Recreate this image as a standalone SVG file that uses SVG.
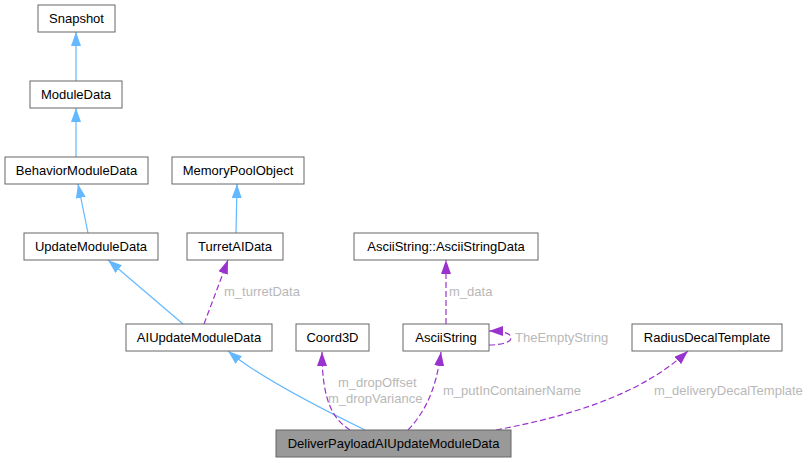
<svg xmlns="http://www.w3.org/2000/svg" width="810" height="463" viewBox="0 0 810 463">
<style>
.n rect{fill:#fff;stroke:#666;stroke-width:1}
.n text{font-family:"Liberation Sans",Arial,sans-serif;font-size:13px;fill:#000;text-anchor:middle}
#n_deliver rect{fill:#999}
.inh{fill:none;stroke:#63b8ff;stroke-width:1.2;marker-end:url(#ab)}
.use{fill:none;stroke:#9a32cd;stroke-width:1.2;stroke-dasharray:6,3;marker-end:url(#ap)}
.lbl{font-family:"Liberation Sans",Arial,sans-serif;font-size:13px;fill:#b8b8b8}
</style>
<defs>
<marker id="ab" viewBox="0 0 14 10" refX="14" refY="5" markerWidth="14" markerHeight="10" markerUnits="userSpaceOnUse" orient="auto"><path d="M0,0 L14,5 L0,10 z" fill="#63b8ff" stroke="none"/></marker>
<marker id="ap" viewBox="0 0 14 10" refX="14" refY="5" markerWidth="14" markerHeight="10" markerUnits="userSpaceOnUse" orient="auto"><path d="M0,0 L14,5 L0,10 z" fill="#9a32cd" stroke="none"/></marker>
</defs>
<g id="edges">
<path class="inh" d="M76,81 L76,32"/>
<path class="inh" d="M76,157 L76,108"/>
<path class="inh" d="M88,233 L78,184"/>
<path class="inh" d="M236,233 L237,184"/>
<path class="inh" d="M183,324 L108,260"/>
<path class="use" d="M204,324 L228,260"/>
<path class="inh" d="M365,430 C330,413 260,378 228,351"/>
<path class="use" d="M350,430 C335,420 322,405 322,352"/>
<path class="use" d="M408,430 C425,412 436,390 441,352"/>
<path class="use" d="M496,430 C570,416 640,395 688,351"/>
<path class="use" d="M446,324 L446,260"/>
<path class="use" d="M489,345 C502,345 511,342 511,338 C511,333 503,331 489,331"/>
<text class="lbl" x="224" y="296">m_turretData</text>
<text class="lbl" x="449" y="296">m_data</text>
<text class="lbl" x="515" y="342">TheEmptyString</text>
<text class="lbl" x="338" y="387">m_dropOffset</text>
<text class="lbl" x="328" y="403">m_dropVariance</text>
<text class="lbl" x="443" y="395">m_putInContainerName</text>
<text class="lbl" x="654" y="395">m_deliveryDecalTemplate</text>
</g>
<g id="n_snapshot" class="n"><rect x="38" y="5" width="77" height="27"/><text x="76.5" y="23">Snapshot</text></g>
<g id="n_moduledata" class="n"><rect x="30" y="81" width="92" height="27"/><text x="76" y="99">ModuleData</text></g>
<g id="n_behavior" class="n"><rect x="5" y="157" width="143" height="27"/><text x="76.5" y="175">BehaviorModuleData</text></g>
<g id="n_mempool" class="n"><rect x="172" y="157" width="132" height="27"/><text x="238" y="175">MemoryPoolObject</text></g>
<g id="n_update" class="n"><rect x="24" y="233" width="134" height="27"/><text x="91" y="251">UpdateModuleData</text></g>
<g id="n_turret" class="n"><rect x="187" y="233" width="96" height="27"/><text x="235" y="251">TurretAIData</text></g>
<g id="n_asdata" class="n"><rect x="354" y="233" width="184" height="27"/><text x="446" y="251">AsciiString::AsciiStringData</text></g>
<g id="n_aiupdate" class="n"><rect x="126" y="324" width="146" height="27"/><text x="199" y="342">AIUpdateModuleData</text></g>
<g id="n_coord" class="n"><rect x="296" y="324" width="73" height="27"/><text x="332.5" y="342">Coord3D</text></g>
<g id="n_ascii" class="n"><rect x="403" y="324" width="86" height="27"/><text x="446" y="342">AsciiString</text></g>
<g id="n_radius" class="n"><rect x="632" y="324" width="150" height="27"/><text x="707" y="342">RadiusDecalTemplate</text></g>
<g id="n_deliver" class="n"><rect x="276" y="430" width="235" height="27"/><text x="393.5" y="448">DeliverPayloadAIUpdateModuleData</text></g>
</svg>
